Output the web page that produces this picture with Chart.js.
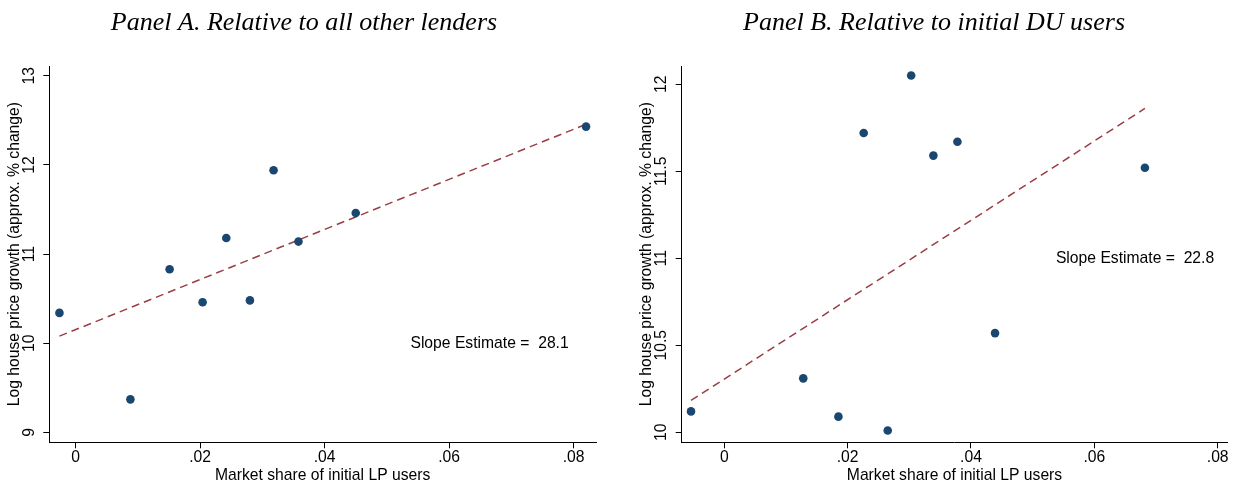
<!DOCTYPE html>
<html>
<head>
<meta charset="utf-8">
<script src="https://cdn.jsdelivr.net/npm/chart.js@4.4.1/dist/chart.umd.min.js"></script>
<style>
  html, body { margin: 0; padding: 0; background: #fff; }
  #wrap { position: relative; width: 1237px; height: 486px; overflow: hidden; }
  canvas { position: absolute; top: 0; }
  #panelA { left: 0; }
  #panelB { left: 618px; }
</style>
</head>
<body>
<div id="wrap">
  <canvas id="panelA" width="618" height="486"></canvas>
  <canvas id="panelB" width="619" height="486"></canvas>
</div>
<script>
// Panel A: bin means relative to all other lenders
const shareA = [-0.0026, 0.0088, 0.0151, 0.0204, 0.0242, 0.0280, 0.0318, 0.0358, 0.0450, 0.0820];
const growthA = [10.34, 9.37, 10.83, 10.46, 11.18, 10.48, 11.94, 11.14, 11.46, 12.43];
const slopeA = 28.1;
const interceptA = 10.152;

// Panel B: bin means relative to initial DU users
const shareB = [-0.0054, 0.0128, 0.0185, 0.0226, 0.0265, 0.0303, 0.0339, 0.0378, 0.0439, 0.0682];
const growthB = [10.12, 10.31, 10.09, 11.72, 10.01, 12.05, 11.59, 11.67, 10.57, 11.52];
const slopeB = 22.8;
const interceptB = 10.306;

// Axis ticks
const xTicks = [0, 0.02, 0.04, 0.06, 0.08];
const yTicksA = [9, 10, 11, 12, 13];
const yTicksB = [10, 10.5, 11, 11.5, 12];

// Text
const titleA = 'Panel A. Relative to all other lenders';
const titleB = 'Panel B. Relative to initial DU users';
const xTitle = 'Market share of initial LP users';
const yTitle = 'Log house price growth (approx. % change)';

const SANS = '"Liberation Sans", Arial, sans-serif';
const FS = 15.7;
const NAVY = '#1a476f';
const MAROON = '#9a3d45';
const INK = '#000000';

const fmtX = v => v === 0 ? '0' : String(Number(v.toFixed(2))).replace(/^0\./, '.');
const fmtY = v => String(v);

function fitLine(xs, a, b) {
  const lo = Math.min(...xs), hi = Math.max(...xs);
  return [{x: lo, y: a + b * lo}, {x: hi, y: a + b * hi}];
}

// Titles, rotated y tick labels and the slope note
const panelText = {
  id: 'panelText',
  afterDraw(chart, args, o) {
    const {ctx, chartArea, scales} = chart;
    const xs = scales.x, ys = scales.y;
    ctx.save();
    ctx.fillStyle = INK;

    ctx.font = o.titleFont;
    ctx.textAlign = 'center';
    ctx.textBaseline = 'alphabetic';
    ctx.fillText(o.title, o.titleX, o.titleBaseline);

    ctx.font = FS + 'px ' + SANS;
    ctx.textBaseline = 'middle';
    ys.ticks.forEach(t => {
      const py = ys.getPixelForValue(t.value);
      ctx.save();
      ctx.translate(chartArea.left - o.yLabelOffset, py);
      ctx.rotate(-Math.PI / 2);
      ctx.fillText(fmtY(t.value), 0, 0);
      ctx.restore();
    });

    ctx.fillText(o.note, xs.getPixelForValue(o.noteAt[0]), ys.getPixelForValue(o.noteAt[1]));
    ctx.restore();
  }
};

function makePanel(canvasId, cfg) {
  return new Chart(document.getElementById(canvasId), {
    type: 'scatter',
    data: {
      datasets: [
        {
          data: cfg.xs.map((x, i) => ({x, y: cfg.ys[i]})),
          backgroundColor: NAVY,
          borderColor: NAVY,
          borderWidth: 0,
          pointRadius: 4.3,
          order: 1
        },
        {
          data: fitLine(cfg.xs, cfg.intercept, cfg.slope),
          showLine: true,
          borderColor: MAROON,
          borderWidth: 1.5,
          borderDash: [8, 5],
          pointRadius: 0,
          fill: false,
          order: 2
        }
      ]
    },
    options: {
      responsive: false,
      animation: false,
      devicePixelRatio: 1,
      layout: {padding: cfg.padding},
      plugins: {
        legend: {display: false},
        tooltip: {enabled: false},
        title: {display: false},
        panelText: {
          title: cfg.title,
          titleX: cfg.titleX,
          titleBaseline: 30,
          titleFont: 'italic 26px "Liberation Serif", "Times New Roman", serif',
          yLabelOffset: 19.8,
          note: 'Slope Estimate =  ' + cfg.slope.toFixed(1),
          noteAt: cfg.noteAt
        }
      },
      scales: {
        x: {
          type: 'linear',
          min: cfg.xRange[0],
          max: cfg.xRange[1],
          afterBuildTicks: s => { s.ticks = xTicks.map(v => ({value: v})); },
          afterFit: s => { s.height = 43.7; },
          ticks: {
            callback: v => fmtX(v),
            font: {family: SANS, size: FS},
            color: INK,
            padding: 0,
            maxRotation: 0,
            autoSkip: false
          },
          grid: {display: true, drawOnChartArea: false, drawTicks: true, tickLength: 6, tickColor: INK, tickWidth: 1},
          border: {display: true, color: INK, width: 1},
          title: {display: true, text: xTitle, color: INK, font: {family: SANS, size: FS, lineHeight: 1.2}, padding: {top: 0, bottom: 1}}
        },
        y: {
          type: 'linear',
          min: cfg.yRange[0],
          max: cfg.yRange[1],
          afterBuildTicks: s => { s.ticks = cfg.yTicks.map(v => ({value: v})); },
          afterFit: s => { s.width = cfg.yWidth; },
          ticks: {display: false},
          grid: {display: true, drawOnChartArea: false, drawTicks: true, tickLength: 6, tickColor: INK, tickWidth: 1},
          border: {display: true, color: INK, width: 1},
          title: {display: true, text: yTitle, color: INK, font: {family: SANS, size: FS, lineHeight: 1.2}, padding: {top: 5.6, bottom: 0}}
        }
      }
    },
    plugins: [panelText]
  });
}

makePanel('panelA', {
  xs: shareA, ys: growthA, slope: slopeA, intercept: interceptA,
  xRange: [-0.00423, 0.0836], yRange: [8.888, 13.11], yTicks: yTicksA,
  padding: {left: 0, right: 22, top: 66, bottom: 0}, yWidth: 49.3,
  title: titleA, titleX: 304, noteAt: [0.0665, 10]
});

makePanel('panelB', {
  xs: shareB, ys: growthB, slope: slopeB, intercept: interceptB,
  xRange: [-0.00691, 0.08156], yRange: [9.9425, 12.105], yTicks: yTicksB,
  padding: {left: 14, right: 9.7, top: 66, bottom: 0}, yWidth: 49.7,
  title: titleB, titleX: 316, noteAt: [0.0666, 11]
});
</script>
</body>
</html>
